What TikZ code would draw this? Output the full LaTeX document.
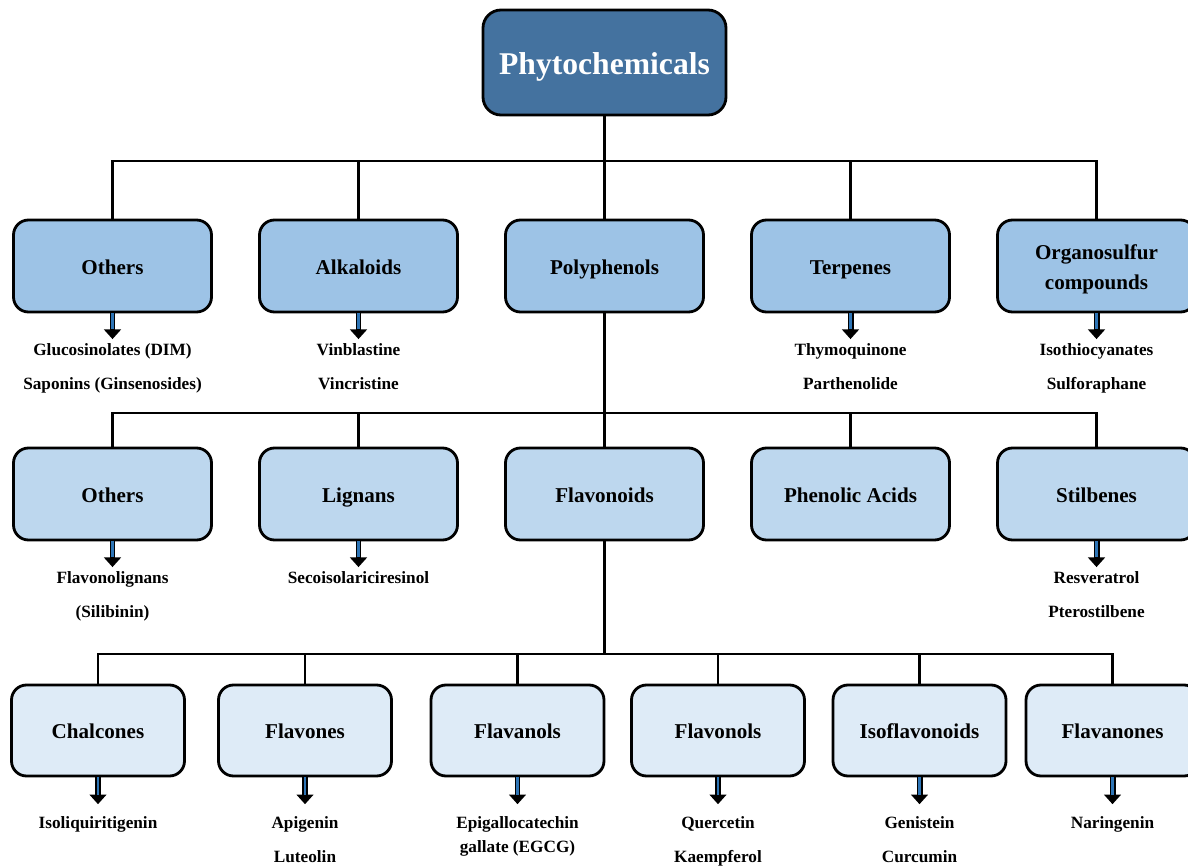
\documentclass[tikz,border=0pt]{standalone}
\usepackage{fontspec}
\setmainfont{Liberation Serif}
\usetikzlibrary{positioning, arrows.meta}

\definecolor{topblue}{HTML}{44729F}
\definecolor{rowA}{HTML}{9DC3E6}
\definecolor{rowB}{HTML}{BDD7EE}
\definecolor{rowC}{HTML}{DEEBF7}
\definecolor{stemblue}{HTML}{2E75B6}

\begin{document}
\begin{tikzpicture}[on grid,
        box/.style={draw, line width=1.6pt, rounded corners=0.3cm, minimum width=3.96cm, minimum height=1.84cm, align=center,
            text height=12pt, text depth=2.8pt, font=\fontsize{12}{17}\selectfont\bfseries},
        catA/.style={box, fill=rowA},
        catB/.style={box, fill=rowB},
        catC/.style={box, fill=rowC, minimum width=3.46cm, minimum height=1.82cm},
        item/.style={inner sep=0pt, text height=8pt, text depth=2pt, font=\fontsize{9.8}{13.7}\selectfont\bfseries},
        link/.style={line width=1.5pt},
        blk/.style={line width=3.4pt, -{Triangle[width=9.5pt,length=5.5pt]}, shorten >=#1,
            postaction={draw=stemblue, line width=1.6pt, -, shorten >=#1+5.5pt}}]
        \useasboundingbox (0,0) rectangle (23.76,-17.32);

        \node[box, fill=topblue, text=white, minimum width=4.86cm, minimum height=2.1cm, rounded corners=0.36cm,
              text height=17.6pt, text depth=4pt, font=\fontsize{18}{20}\selectfont\bfseries] (root) at (12.09,-1.25) {Phytochemicals};

        % first level
        \node[catA](poly) [below=4.07cm of root] {Polyphenols};
        \node[catA](alk) [left=4.92cm of poly] {Alkaloids};
        \node[catA](oth1) [left=4.92cm of alk] {Others};
        \node[catA](terp) [right=4.92cm of poly] {Terpenes};
        \node[catA, text height=29pt, text depth={}](orgs) [right=4.92cm of terp] {Organosulfur\\compounds};

        \node[item](oth1a) [below=1.68cm of oth1] {Glucosinolates (DIM)};
        \node[item](oth1b) [below=0.68cm of oth1a] {Saponins (Ginsenosides)};
        \node[item](alka) [below=1.68cm of alk] {Vinblastine};
        \node[item](alkb) [below=0.68cm of alka] {Vincristine};
        \node[item](terpa) [below=1.68cm of terp] {Thymoquinone};
        \node[item](terpb) [below=0.68cm of terpa] {Parthenolide};
        \node[item](orgsa) [below=1.68cm of orgs] {Isothiocyanates};
        \node[item](orgsb) [below=0.68cm of orgsa] {Sulforaphane};

        % polyphenols
        \node[catB](flav) [below=4.56cm of poly] {Flavonoids};
        \node[catB](lign) [left=4.92cm of flav] {Lignans};
        \node[catB](oth2) [left=4.92cm of lign] {Others};
        \node[catB](phen) [right=4.92cm of flav] {Phenolic Acids};
        \node[catB](stil) [right=4.92cm of phen] {Stilbenes};

        \node[item](oth2a) [below=1.68cm of oth2] {Flavonolignans};
        \node[item](oth2b) [below=0.68cm of oth2a] {(Silibinin)};
        \node[item](ligna) [below=1.68cm of lign] {Secoisolariciresinol};
        \node[item](stila) [below=1.68cm of stil] {Resveratrol};
        \node[item](stilb) [below=0.68cm of stila] {Pterostilbene};

        % flavonoids
        \node[catC](chal) [below left=4.73cm and 10.13cm of flav] {Chalcones};
        \node[catC](fone) [right=4.14cm of chal] {Flavones};
        \node[catC](fanol) [right=4.25cm of fone] {Flavanols};
        \node[catC](fonol) [right=4.01cm of fanol] {Flavonols};
        \node[catC](isof) [right=4.03cm of fonol] {Isoflavonoids};
        \node[catC](fanon) [right=3.86cm of isof] {Flavanones};

        \node[item](chala) [below=1.85cm of chal] {Isoliquiritigenin};
        \node[item](fonea) [below=1.85cm of fone] {Apigenin};
        \node[item](foneb) [below=0.68cm of fonea] {Luteolin};
        \node[item](fanola) [below=1.85cm of fanol] {Epigallocatechin};
        \node[item](fanolb) [below=0.48cm of fanola] {gallate (EGCG)};
        \node[item](fonola) [below=1.85cm of fonol] {Quercetin};
        \node[item](fonolb) [below=0.68cm of fonola] {Kaempferol};
        \node[item](isofa) [below=1.85cm of isof] {Genistein};
        \node[item](isofb) [below=0.68cm of isofa] {Curcumin};
        \node[item](fanona) [below=1.85cm of fanon] {Naringenin};

        % tree lines
        \coordinate[below=1.97cm of root] (bus1);
        \coordinate[below=2.94cm of poly] (bus2);
        \coordinate[below=3.2cm of flav] (bus3);
        \draw[link] (root) -- (bus1) -| (oth1);
        \draw[link] (bus1) -| (alk);
        \draw[link] (bus1) -- (poly);
        \draw[link] (bus1) -| (terp);
        \draw[link] (bus1) -| (orgs);
        \draw[link] (poly) -- (bus2) -| (oth2);
        \draw[link] (bus2) -| (lign);
        \draw[link] (bus2) -- (flav);
        \draw[link] (bus2) -| (phen);
        \draw[link] (bus2) -| (stil);
        \draw[link] (flav) -- (bus3) -| (chal);
        \draw[link] (bus3) -| (fone);
        \draw[link] (bus3) -| (fanol);
        \draw[link] (bus3) -| (fonol);
        \draw[link] (bus3) -| (isof);
        \draw[link] (bus3) -| (fanon);

        % block arrows
        \path
        (oth1) edge[blk=1pt] (oth1a)
        (alk) edge[blk=1pt] (alka)
        (terp) edge[blk=1pt] (terpa)
        (orgs) edge[blk=1pt] (orgsa)
        (oth2) edge[blk=1pt] (oth2a)
        (lign) edge[blk=1pt] (ligna)
        (stil) edge[blk=1pt] (stila)
        (chal) edge[blk=5.5pt] (chala)
        (fone) edge[blk=5.5pt] (fonea)
        (fanol) edge[blk=5.5pt] (fanola)
        (fonol) edge[blk=5.5pt] (fonola)
        (isof) edge[blk=5.5pt] (isofa)
        (fanon) edge[blk=5.5pt] (fanona);
      \end{tikzpicture}
\end{document}
